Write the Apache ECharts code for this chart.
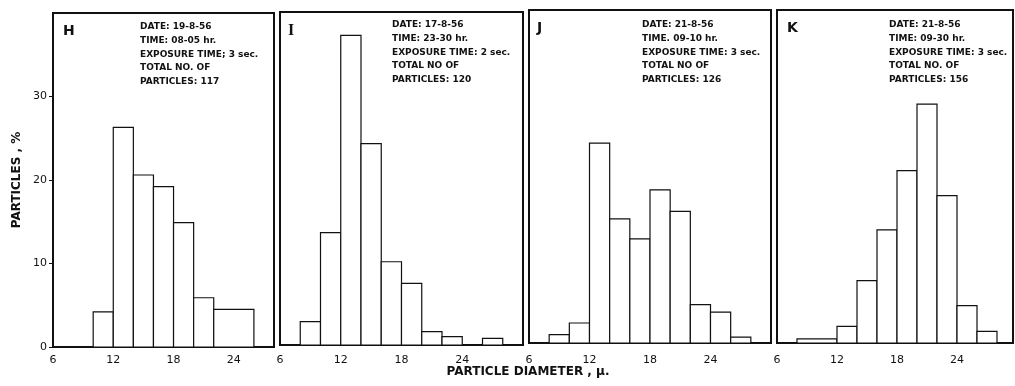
<!DOCTYPE html>
<html>
<head>
<meta charset="utf-8">
<script src="https://cdn.jsdelivr.net/npm/echarts@6/dist/echarts.min.js"></script>
<style>
html, body { margin: 0; padding: 0; background: #fff; }
#chart { width: 1015px; height: 386px; }
</style>
</head>
<body>
<div id="chart"></div>
<script>
// particle diameter bins (edges, microns) and percentage of particles per bin
var edgesH = [10, 12, 14, 16, 18, 20, 22, 26]
var valuesH = [4.2, 26.3, 20.6, 19.2, 14.9, 5.9, 4.5]

var edgesI = [8, 10, 12, 14, 16, 18, 20, 22, 24, 26, 28]
var valuesI = [2.8, 13.5, 37.2, 24.2, 10.0, 7.4, 1.6, 1.0, 0, 0.8]

var edgesJ = [8, 10, 12, 14, 16, 18, 20, 22, 24, 26, 28]
var valuesJ = [1.0, 2.4, 24.0, 14.9, 12.5, 18.4, 15.8, 4.6, 3.7, 0.7]

var edgesK = [8, 12, 14, 16, 18, 20, 22, 24, 26, 28]
var valuesK = [0.5, 2.0, 7.5, 13.6, 20.7, 28.7, 17.7, 4.5, 1.4]

var panelLetters = ['H', 'I', 'J', 'K']
var notesH = ['DATE: 19-8-56', 'TIME: 08-05 hr.', 'EXPOSURE TIME; 3 sec.', 'TOTAL NO. OF', 'PARTICLES: 117']
var notesI = ['DATE: 17-8-56', 'TIME: 23-30 hr.', 'EXPOSURE TIME: 2 sec.', 'TOTAL NO OF', 'PARTICLES: 120']
var notesJ = ['DATE: 21-8-56', 'TIME. 09-10 hr.', 'EXPOSURE TIME: 3 sec.', 'TOTAL NO OF', 'PARTICLES: 126']
var notesK = ['DATE: 21-8-56', 'TIME: 09-30 hr.', 'EXPOSURE TIME: 3 sec.', 'TOTAL NO. OF', 'PARTICLES: 156']

var xTicks = [6, 12, 18, 24]
var yTicks = [0, 10, 20, 30]

var ink = '#111'
var font = 'DejaVu Sans'

// panel boxes in pixels
var panels = [
    { edges: edgesH, values: valuesH, notes: notesH, left: 53, top: 13, width: 221, height: 334, xmax: 28, noteX: 140, noteY: 27, letterX: 63, letterY: 31, letterFont: 'bold 14px "DejaVu Sans"' },
    { edges: edgesI, values: valuesI, notes: notesI, left: 280, top: 12, width: 243, height: 333, xmax: 30, noteX: 392, noteY: 25, letterX: 288, letterY: 31, letterFont: 'bold 16px "Liberation Serif"' },
    { edges: edgesJ, values: valuesJ, notes: notesJ, left: 529, top: 10, width: 242, height: 333, xmax: 30, noteX: 642, noteY: 25, letterX: 537, letterY: 28, letterFont: 'bold 14px "DejaVu Sans"' },
    { edges: edgesK, values: valuesK, notes: notesK, left: 777, top: 10, width: 236, height: 333, xmax: 29.6, noteX: 889, noteY: 25, letterX: 787, letterY: 28, letterFont: 'bold 14px "DejaVu Sans"' }
]

function binData(edges, values) {
    var out = []
    for (var i = 0; i < values.length; i++) {
        out.push([edges[i], edges[i + 1], values[i]])
    }
    return out
}

function renderBar(params, api) {
    var p0 = api.coord([api.value(0), api.value(2)])
    var p1 = api.coord([api.value(1), 0])
    return {
        type: 'rect',
        shape: { x: p0[0], y: p0[1], width: p1[0] - p0[0], height: p1[1] - p0[1] },
        style: { fill: '#fff', stroke: ink, lineWidth: 1.2 }
    }
}

var grids = [], xAxes = [], yAxes = [], series = [], graphics = []

panels.forEach(function (p, i) {
    grids.push({
        left: p.left, top: p.top, width: p.width, height: p.height,
        show: true, borderColor: ink, borderWidth: 2, backgroundColor: 'transparent'
    })
    xAxes.push({
        type: 'value', gridIndex: i, min: 6, max: p.xmax, interval: 6,
        axisLine: { show: true, lineStyle: { color: ink, width: 2 } },
        axisTick: { show: false },
        splitLine: { show: false },
        axisLabel: {
            show: true, showMaxLabel: false, color: ink, fontFamily: font, fontSize: 11,
            margin: 361 - 6 - (p.top + p.height),
            formatter: function (v) { return xTicks.indexOf(v) >= 0 ? String(v) : '' }
        }
    })
    yAxes.push({
        type: 'value', gridIndex: i, min: 0, max: 40, interval: 10,
        name: i === 0 ? 'PARTICLES , %' : '',
        nameLocation: 'middle', nameGap: 30,
        nameTextStyle: { color: ink, fontFamily: font, fontSize: 12, fontWeight: 'bold' },
        axisLine: { show: true, lineStyle: { color: ink, width: 2 } },
        axisTick: { show: i === 0, length: 4, lineStyle: { color: ink } },
        splitLine: { show: false },
        axisLabel: {
            show: i === 0, showMaxLabel: false, color: ink, fontFamily: font, fontSize: 11, margin: 6,
            formatter: function (v) { return yTicks.indexOf(v) >= 0 ? String(v) : '' }
        }
    })
    series.push({
        type: 'custom', xAxisIndex: i, yAxisIndex: i,
        renderItem: renderBar,
        encode: { x: [0, 1], y: 2 },
        data: binData(p.edges, p.values)
    })
    graphics.push({
        type: 'text', x: p.letterX, y: p.letterY,
        style: { text: panelLetters[i], font: p.letterFont, fill: ink, verticalAlign: 'middle' }
    })
    p.notes.forEach(function (line, k) {
        graphics.push({
            type: 'text', x: p.noteX, y: p.noteY + k * 13.7,
            style: { text: line, font: 'bold 9px "DejaVu Sans"', fill: ink, verticalAlign: 'middle' }
        })
    })
})

graphics.push({
    type: 'text', x: 528, y: 372,
    style: { text: 'PARTICLE DIAMETER , \u03bc.', font: 'bold 12px "DejaVu Sans"', fill: ink, align: 'center', verticalAlign: 'middle' }
})

var chart = echarts.init(document.getElementById('chart'), null, { renderer: 'canvas' })
chart.setOption({
    backgroundColor: '#fff',
    animation: false,
    grid: grids,
    xAxis: xAxes,
    yAxis: yAxes,
    series: series,
    graphic: graphics
})
</script>
</body>
</html>
